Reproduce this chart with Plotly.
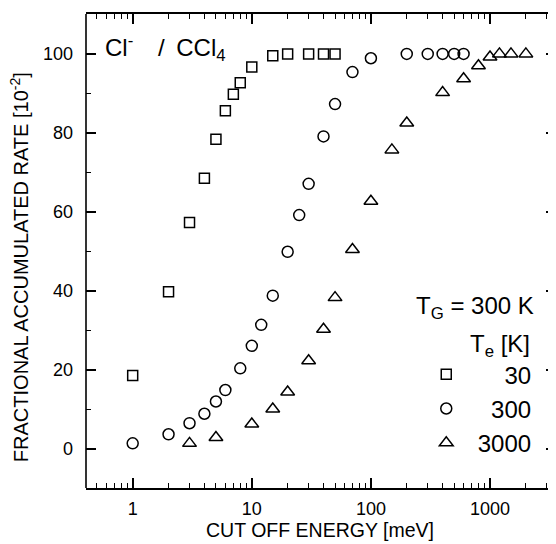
import plotly.graph_objects as go

# ---- data ----
e_30 = [1, 2, 3, 4, 5, 6, 7, 8, 10, 15, 20, 30, 40, 50]
r_30 = [18.6, 39.8, 57.3, 68.5, 78.4, 85.6, 89.8, 92.7, 96.7, 99.5, 100, 100, 100, 100]

e_300 = [1, 2, 3, 4, 5, 6, 8, 10, 12, 15, 20, 25, 30, 40, 50, 70, 100, 200, 300, 400, 500, 600]
r_300 = [1.4, 3.7, 6.5, 8.9, 12.0, 14.9, 20.4, 26.1, 31.4, 38.8, 49.9, 59.2, 67.1, 79.1, 87.3,
         95.4, 98.9, 100, 100, 100, 100, 100]

e_3000 = [3, 5, 10, 15, 20, 30, 40, 50, 70, 100, 150, 200, 400, 600, 800, 1000, 1200, 1500, 2000]
r_3000 = [1.4, 2.9, 6.3, 10.1, 14.4, 22.3, 30.3, 38.3, 50.5, 62.7, 75.7, 82.5, 90.2, 93.7,
          97.0, 99.2, 100, 100, 100]

PAD = "\u00a0\u2009"
series_names = [PAD + "\u00a0\u00a0\u00a0\u00a030", PAD + "\u00a0\u00a0300", PAD + "3000"]
x_ticks = [1, 10, 100, 1000]
x_ticktext = ["1", "10", "100", "1000"]
y_ticks = [0, 20, 40, 60, 80, 100]

FONT = "Liberation Sans, Arial, sans-serif"

fig = go.Figure()
for xs, ys, name, sym, size in [
    (e_30, r_30, series_names[0], "square-open", 10),
    (e_300, r_300, series_names[1], "circle-open", 11),
    (e_3000, r_3000, series_names[2], "triangle-up-open", 12),
]:
    fig.add_trace(go.Scatter(
        x=xs, y=ys, mode="markers", name=name,
        marker=dict(symbol=sym, size=size, color="black", line=dict(color="black", width=1.5)),
    ))

# page has an 8px body margin: compensate so the plot area sits at x 86..556, y 14..488
fig.update_layout(
    width=548, height=536,
    margin=dict(l=78, r=0, t=6, b=56, autoexpand=False),
    paper_bgcolor="white", plot_bgcolor="white",
    font=dict(family=FONT, color="black", size=18),
    showlegend=True,
    legend=dict(
        x=0.958, xanchor="right", y=0.2865, yanchor="top",
        font=dict(size=24, family=FONT, color="black"),
        bgcolor="rgba(0,0,0,0)", tracegroupgap=0, itemwidth=30,
    ),
    xaxis=dict(
        type="log", range=[-0.392, 3.554], automargin=False,
        tickvals=x_ticks, ticktext=x_ticktext,
        ticks="inside", ticklen=10, tickwidth=1.5, tickcolor="black",
        minor=dict(ticks="inside", ticklen=5, tickwidth=1.2, tickcolor="black",
                   dtick="D1", showgrid=False),
        showline=True, linewidth=1.6, linecolor="black", mirror="ticks",
        showgrid=False, zeroline=False,
        ticklabelstandoff=4,
        tickfont=dict(size=18),
    ),
    yaxis=dict(
        range=[-9.9, 110.1], automargin=False,
        tickvals=y_ticks,
        ticks="inside", ticklen=10, tickwidth=1.5, tickcolor="black",
        minor=dict(ticks="inside", ticklen=5, tickwidth=1.2, tickcolor="black", dtick=10, tick0=0, showgrid=False),
        showline=False, mirror="ticks",
        showgrid=False, zeroline=False,
        ticklabelstandoff=12,
        tickfont=dict(size=18),
    ),
    shapes=[
        dict(type="line", xref="paper", yref="paper", x0=0, x1=0, y0=0, y1=1,
             line=dict(color="black", width=1.6)),
    ],
    annotations=[
        dict(text="CUT OFF ENERGY [meV]", xref="paper", yref="paper",
             x=0.498, y=-0.0876, xanchor="center", yanchor="middle", showarrow=False,
             font=dict(size=19.5, family=FONT, color="black")),
        dict(text="FRACTIONAL ACCUMULATED RATE [10<sup>-2</sup>]", xref="paper", yref="paper",
             x=-0.1425, y=0.466, xanchor="center", yanchor="middle", showarrow=False,
             textangle=-90, font=dict(size=20, family=FONT, color="black")),
        dict(text="Cl<sup>-</sup>\u00a0\u00a0\u00a0\u2009/\u00a0\u2009CCl<sub>4</sub>", xref="paper", yref="paper",
             x=0.0355, y=0.969, xanchor="left", yanchor="top", showarrow=False,
             font=dict(size=24, family=FONT, color="black")),
        dict(text="T<sub>G</sub> = 300 K", xref="paper", yref="paper",
             x=0.958, y=0.38, xanchor="right", yanchor="middle", showarrow=False,
             font=dict(size=24, family=FONT, color="black")),
        dict(text="T<sub>e</sub> [K]", xref="paper", yref="paper",
             x=0.948, y=0.300, xanchor="right", yanchor="middle", showarrow=False,
             font=dict(size=24, family=FONT, color="black")),
    ],
)

fig.write_html("out.html")
